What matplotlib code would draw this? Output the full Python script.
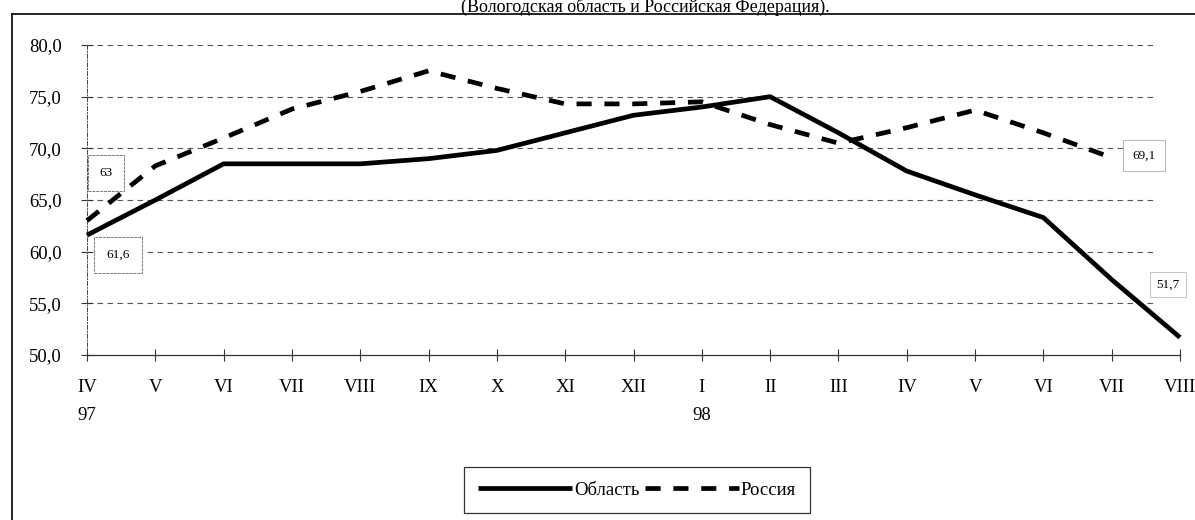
import matplotlib.pyplot as plt
from matplotlib.lines import Line2D
from matplotlib.transforms import blended_transform_factory

plt.rcParams['font.family'] = ['Liberation Serif', 'DejaVu Serif']

months = ['IV', 'V', 'VI', 'VII', 'VIII', 'IX', 'X', 'XI', 'XII',
          'I', 'II', 'III', 'IV', 'V', 'VI', 'VII', 'VIII']
years = {0: '97', 9: '98'}

oblast = [61.6, 65.0, 68.5, 68.5, 68.5, 69.0, 69.8, 71.5, 73.2,
          74.0, 75.0, 71.5, 67.8, 65.5, 63.3, 57.3, 51.7]
russia = [63.0, 68.3, 71.0, 73.8, 75.5, 77.5, 75.8, 74.3, 74.3,
          74.5, 72.3, 70.5, 72.0, 73.7, 71.5, 69.1]

yticks = [50, 55, 60, 65, 70, 75, 80]

W, H = 1195, 520
fig = plt.figure(figsize=(W / 100, H / 100), dpi=100)

#-- outer frame (only left and top visible)
fig.add_artist(Line2D([12 / W, 12 / W], [0, 1 - 14 / H], color='k', lw=1.2))
fig.add_artist(Line2D([12 / W, 1], [1 - 14 / H, 1 - 14 / H], color='k', lw=1.2))

fig.text(645 / W, 1 - 7 / H, '(Вологодская область и Российская Федерация).',
         ha='center', va='center', fontsize=13)

x0, x1 = 87, 1180
y0, y1 = 355, 45
ax = fig.add_axes([x0 / W, 1 - y0 / H, (x1 - x0) / W, (y0 - y1) / H])
ax.set_xlim(0, 16)
ax.set_ylim(50, 80)
for s in ['top', 'right']:
    ax.spines[s].set_visible(False)
ax.spines['left'].set_linestyle((0, (4, 2, 1, 2)))
ax.spines['left'].set_linewidth(0.7)
ax.spines['left'].set_color('#444')
ax.spines['bottom'].set_linewidth(0.9)
ax.spines['bottom'].set_color('#333')
ax.patch.set_alpha(0)

#-- horizontal dashed grid
for v in yticks[1:]:
    ax.plot([0, 15.6], [v, v], color='#555', lw=0.8, ls=(0, (5, 4)), zorder=1)

ax.set_yticks(yticks)
ax.set_yticklabels([f'{v:.1f}'.replace('.', ',') for v in yticks], fontsize=13.5)
ax.set_xticks(range(len(months)))
ax.set_xticklabels(months, fontsize=13.5)
ax.tick_params(axis='both', direction='inout', length=8, width=0.8, color='#333')
ax.tick_params(axis='x', pad=13)
ax.tick_params(axis='y', pad=14)

tr = blended_transform_factory(ax.transData, fig.transFigure)
for i, yr in years.items():
    ax.text(i, 1 - 416 / H, yr, transform=tr, ha='center', va='center', fontsize=13.5)

ax.plot(range(len(oblast)), oblast, color='k', lw=3.4, solid_capstyle='butt',
        label='Область', zorder=3, clip_on=False)
ax.plot(range(len(russia)), russia, color='k', lw=3.4, dashes=(3.2, 2.7),
        label='Россия', zorder=3, clip_on=False)

box = dict(boxstyle='square,pad=0.9', fc='white', ec='#777', lw=0.7, ls=(0, (3, 1)))
lab = dict(textcoords='offset pixels', ha='center', va='center', fontsize=9.5, bbox=box)
ax.annotate('63', xy=(0, russia[0]), xytext=(19, 48), **lab)
ax.annotate('61,6', xy=(0, oblast[0]), xytext=(31, -20), **lab)
ax.annotate('69,1', xy=(15, russia[15]), xytext=(32, 2),
            **{**lab, 'bbox': dict(boxstyle='square,pad=0.7', fc='white', ec='#aaa', lw=0.6)})
ax.annotate('51,7', xy=(16, oblast[16]), xytext=(-12, 53),
            **{**lab, 'bbox': dict(boxstyle='square,pad=0.5', fc='none', ec='#bbb', lw=0.6)})

leg = fig.legend(loc='center', bbox_to_anchor=(637 / W, 1 - 490 / H), ncol=2,
                 fontsize=13.5, frameon=True, fancybox=False, edgecolor='k',
                 handlelength=5.0, handletextpad=0.1, columnspacing=0.3,
                 borderpad=0.75, borderaxespad=0)
leg.get_frame().set_linewidth(0.9)

fig.savefig('out.png', dpi=100)
